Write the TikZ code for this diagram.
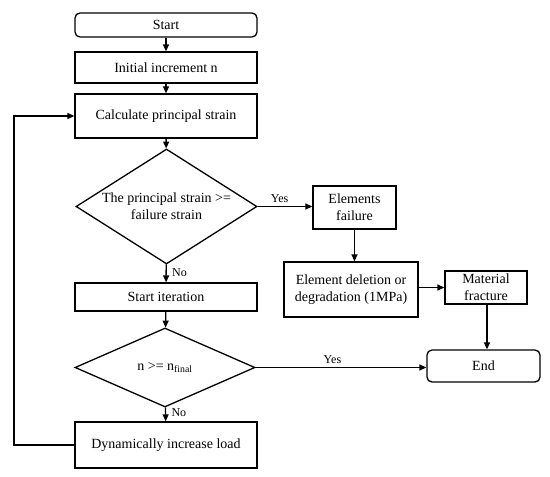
\documentclass[tikz,border=0pt]{standalone}
\usepackage{fontspec}
\setmainfont{Liberation Serif}
\usetikzlibrary{shapes.geometric,arrows.meta}
\begin{document}
\begin{tikzpicture}[x=1pt,y=-1pt,
  every node/.style={font=\fontsize{14}{17}\selectfont},
  box/.style={draw,line width=1.3pt,inner sep=0pt,align=center},
  rbox/.style={box,rounded corners=5pt},
  dec/.style={draw,line width=1.3pt,diamond,inner sep=0pt,align=center},
  conn/.style={line width=1.3pt,-{Triangle[length=7pt,width=6pt]}},
  lab/.style={font=\fontsize{12}{14}\selectfont}]
\useasboundingbox (0,0) rectangle (550,477);
\node[rbox,minimum width=182pt,minimum height=24pt] (start) at (166,25) {Start};
\node[box,minimum width=182pt,minimum height=31pt] (init) at (166,67.5) {Initial increment n};
\node[box,minimum width=182pt,minimum height=44pt] (calc) at (166,116) {Calculate principal strain};
\node[dec,aspect=1.574,minimum width=181pt,minimum height=115pt] (d1) at (166.5,206.5) {The principal strain >=\\failure strain};
\node[box,minimum width=182pt,minimum height=28pt] (iter) at (166,297) {Start iteration};
\node[dec,aspect=2.28,minimum width=180pt,minimum height=79pt] (d2) at (165,367.5) {n >= n\textsubscript{final}};
\node[box,minimum width=182pt,minimum height=46pt] (dyn) at (166,445) {Dynamically increase load};
\node[box,minimum width=83pt,minimum height=43pt] (fail) at (354.5,207.5) {Elements\\failure};
\node[box,minimum width=134pt,minimum height=55pt] (del) at (351,289.5) {Element deletion or\\degradation (1MPa)};
\node[box,minimum width=82pt,minimum height=33pt] (mat) at (486,287.5) {Material\\fracture};
\node[rbox,minimum width=113pt,minimum height=32pt] (end) at (483.5,366) {End};
\coordinate (loop) at (14,445);
\draw[conn] (start) -- (init);
\draw[conn] (init) -- (calc);
\draw[conn] (calc) -- (d1);
\draw[conn] (d1) -- node[lab,right,pos=0.45,xshift=2pt] {No} (iter);
\draw[conn] (iter) -- (d2);
\draw[conn] (d2) -- node[lab,right,pos=0.4,xshift=2pt] {No} (dyn);
\draw[conn] (d1.east) -- node[lab,above,pos=0.4] {Yes} (fail.west |- d1.east);
\draw[conn] (fail) -- (del.north -| fail);
\draw[conn] (del.east |- mat) -- (mat.west);
\draw[conn] (mat.south -| 487,0) -- (end.north -| 487,0);
\draw[conn] (d2.east) -- node[lab,above,pos=0.45] {Yes} (end.west |- d2.east);
\draw[conn] (dyn.west) -- (loop) |- (calc.west);
\end{tikzpicture}
\end{document}
